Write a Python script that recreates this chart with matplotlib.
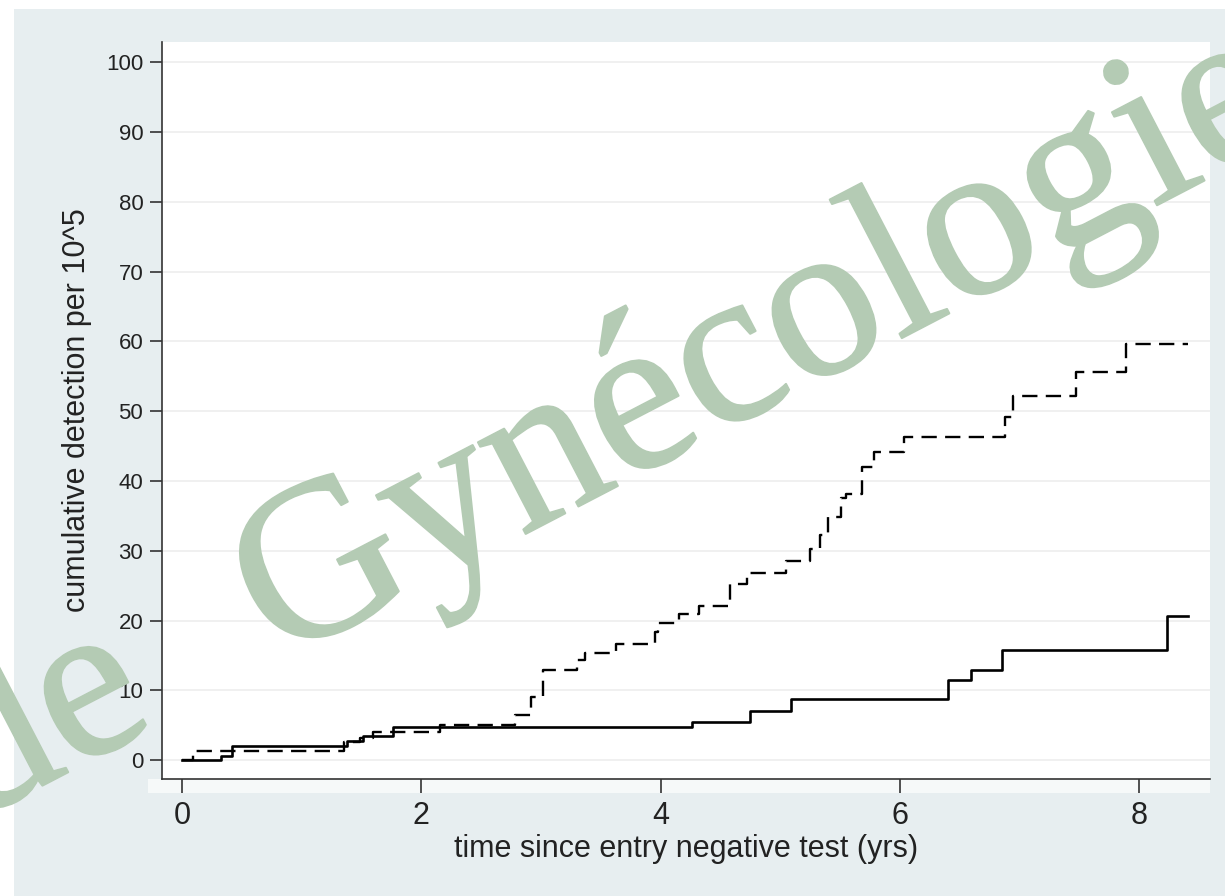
"""
Cumulative detection per 10^5 by time since entry negative test
"""

import matplotlib.pyplot as plt
import matplotlib.patches as mpatches
import matplotlib.patheffects as pe

# Step-function data (years, cumulative detection per 10^5)
solid_t = [0, 0.33, 0.415, 1.38, 1.51, 1.76, 4.26, 4.75, 5.09, 6.40, 6.59, 6.85, 8.23, 8.41]
solid_y = [0, 0.6, 2.1, 2.8, 3.4, 4.7, 5.4, 7.0, 8.8, 11.5, 12.9, 15.8, 20.6, 20.6]

dashed_t = [0, 0.09, 1.35, 1.49, 1.60, 2.16, 2.78, 2.92, 3.02, 3.30, 3.37, 3.63, 3.95,
            3.98, 4.15, 4.32, 4.58, 4.72, 5.05, 5.25, 5.33, 5.40, 5.51, 5.55, 5.68,
            5.78, 6.03, 6.88, 6.94, 7.47, 7.89, 8.41]
dashed_y = [0, 1.3, 2.6, 3.2, 4.0, 5.1, 6.4, 9.0, 12.9, 14.3, 15.3, 16.7, 18.3,
            19.6, 20.9, 22.1, 25.2, 26.8, 28.5, 30.3, 32.2, 34.9, 37.5, 38.2, 42.0,
            44.2, 46.3, 49.1, 52.2, 55.6, 59.6, 59.6]

x_ticks = [0, 2, 4, 6, 8]
y_ticks = list(range(0, 101, 10))

plt.rcParams['font.family'] = ['Liberation Sans', 'DejaVu Sans']
plt.rcParams['lines.scale_dashes'] = False

W, H = 1225, 896
fig = plt.figure(figsize=(W / 100, H / 100), dpi=100, facecolor='white')

# Stata-like graph region background (behind the axes)
fig.patches.append(mpatches.Rectangle((14 / W, 0), 1 - 14 / W, 1 - 9 / H,
                                      transform=fig.transFigure,
                                      facecolor='#e7eef0', edgecolor='none', zorder=-10))
# pale strip just under the x axis line
fig.patches.append(mpatches.Rectangle((148 / W, 1 - 793 / H), (1210 - 148) / W, 14 / H,
                                      transform=fig.transFigure,
                                      facecolor='#f6f9f9', edgecolor='none', zorder=-9))

ax = fig.add_axes([162 / W, 1 - 779 / H, (1210 - 162) / W, (779 - 42) / H])
ax.set_facecolor('white')

ax.step(solid_t, solid_y, where='post', color='black', linewidth=1.9, zorder=3)
ax.step(dashed_t, dashed_y, where='post', color='black', linewidth=1.7,
        dashes=(11, 6), zorder=3)

ax.set_xlim(-0.167, 8.59)
ax.set_ylim(-2.7, 102.9)
ax.set_xticks(x_ticks)
ax.set_yticks(y_ticks)

ax.grid(axis='y', color='#ededed', linewidth=1.2)
ax.set_axisbelow(True)

for side in ['top', 'right']:
    ax.spines[side].set_visible(False)
for side in ['left', 'bottom']:
    ax.spines[side].set_color('#333333')
    ax.spines[side].set_linewidth(1.2)

ax.tick_params(axis='y', labelsize=16, length=8.5, width=1.1, pad=5, colors='#222222')
ax.tick_params(axis='x', labelsize=22, length=10, width=1.1, pad=6, colors='#222222')

ax.set_xlabel('time since entry negative test (yrs)', fontsize=22, color='#222222', labelpad=2)
ax.set_ylabel('cumulative detection per 10^5', fontsize=22, color='#222222', labelpad=10)

# Site watermark, two words on one slanted baseline
wm_color = '#b4cbb4'
wm_style = dict(fontsize=162, family=['Liberation Serif', 'DejaVu Serif'], color=wm_color,
                rotation=27.5, rotation_mode='anchor', ha='center', va='center', zorder=10,
                path_effects=[pe.withStroke(linewidth=1.5, foreground=wm_color)])
fig.text(762 / W, 1 - 350 / H, 'Gynécologie', **wm_style)
fig.text(40 / W, 1 - 726 / H, 'de', **wm_style)

fig.savefig('out.png', dpi=100, facecolor=fig.get_facecolor())
